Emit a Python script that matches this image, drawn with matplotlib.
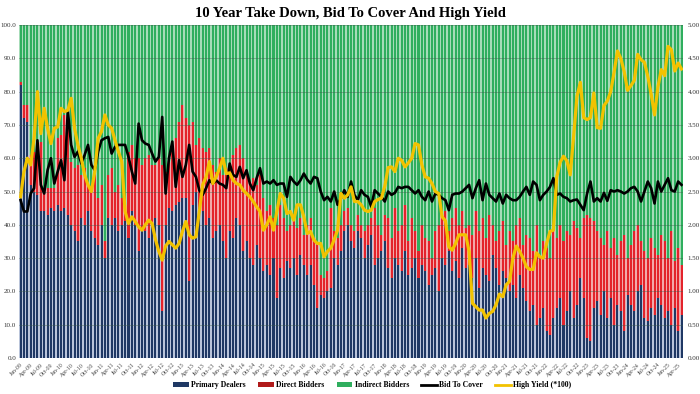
import matplotlib
matplotlib.use("Agg")
import matplotlib.pyplot as plt
from matplotlib.patches import Patch
from matplotlib.lines import Line2D
import numpy as np
import pandas as pd

dates = pd.date_range("2009-01-01", periods=197, freq="MS")
tick_labels = [d.strftime("%b-%y") for d in dates]

primary_dealers = [
    82, 72, 71, 52, 50, 49, 44, 44, 43, 45, 44, 46, 44,
    45, 43, 40, 38, 35, 42, 40, 44, 38, 36, 34, 40,
    30, 42, 40, 42, 38, 40, 41, 36, 44, 40, 32, 38,
    38, 36, 40, 42, 40, 14, 40, 45, 44, 46, 47, 48,
    48, 23, 46, 50, 45, 44, 40, 42, 36, 38, 40, 35,
    30, 38, 36, 42, 40, 32, 35, 30, 28, 34, 30, 26,
    28, 25, 30, 18, 27, 24, 29, 27, 30, 25, 31, 28,
    25, 28, 22, 15, 19, 18, 20, 21, 30, 28, 32, 38,
    40, 35, 33, 38, 36, 30, 34, 37, 28, 30, 32, 35,
    27, 24, 30, 28, 26, 32, 25, 27, 30, 24, 28, 26,
    22, 25, 27, 20, 30, 28, 32, 26, 29, 24, 33, 27,
    28, 24, 30, 21, 27, 25, 23, 31, 27, 22, 26, 24,
    20, 22, 18, 25, 21, 17, 14, 16, 10, 12, 15, 8,
    7, 12, 15, 18, 10, 14, 20, 12, 16, 24, 18, 6,
    5, 15, 17, 13, 20, 12, 18, 10, 16, 14, 8, 19,
    16, 14, 20, 22, 12, 11, 15, 13, 18, 16, 12, 14, 10, 15, 8, 13,
]
direct_bidders = [
    1, 4, 5, 9, 12, 11, 21, 7, 8, 6, 7, 20, 23,
    28, 29, 19, 19, 23, 13, 17, 8, 12, 19, 14, 12,
    5, 13, 17, 8, 14, 8, 5, 26, 20, 20, 28, 20,
    22, 25, 18, 16, 20, 44, 16, 14, 18, 20, 24, 28,
    24, 47, 25, 14, 21, 19, 22, 21, 22, 18, 20, 20,
    27, 20, 25, 21, 24, 28, 21, 23, 26, 18, 25, 22,
    16, 21, 12, 22, 19, 18, 9, 13, 11, 14, 11, 9,
    15, 14, 14, 19, 6, 6, 6, 24, 8, 8, 8, 6,
    5, 5, 5, 5, 4, 8, 6, 5, 17, 10, 5, 8,
    15, 12, 15, 10, 14, 14, 10, 15, 8, 8, 12, 10,
    13, 5, 11, 20, 13, 16, 6, 16, 16, 16, 11, 12,
    12, 13, 14, 17, 15, 11, 20, 9, 8, 16, 15, 10,
    18, 13, 22, 17, 13, 20, 22, 16, 30, 18, 20, 25,
    23, 26, 21, 22, 25, 24, 17, 29, 23, 12, 24, 37,
    37, 26, 21, 23, 14, 26, 15, 26, 15, 21, 29, 11,
    18, 24, 20, 13, 20, 19, 21, 20, 13, 21, 23, 16, 28, 14, 25, 15,
]
bid_to_cover = [
    2.37, 2.2, 2.2, 2.47, 2.55, 3.27, 2.6, 2.47, 2.82, 3.0, 2.62, 2.8,
    2.97, 2.67, 3.72, 3.2, 3.02, 3.1, 2.92, 3.05, 3.2, 2.9, 2.82, 3.1,
    3.27, 3.3, 3.32, 3.07, 3.17, 3.2, 3.2, 3.2, 3.02, 2.8, 2.62, 3.52,
    3.27, 3.22, 3.2, 3.07, 2.95, 3.02, 3.62, 2.47, 3.0, 3.25, 2.57, 2.97,
    2.72, 2.9, 3.2, 2.8, 2.72, 2.52, 2.45, 2.55, 2.67, 2.62, 2.67, 2.62,
    2.6, 2.55, 2.92, 2.75, 2.72, 2.87, 2.7, 2.82, 2.62, 2.52, 2.7, 2.85,
    2.62, 2.65, 2.62, 2.67, 2.6, 2.62, 2.62, 2.42, 2.72, 2.65, 2.6, 2.67,
    2.77, 2.68, 2.62, 2.72, 2.7, 2.5, 2.37, 2.42, 2.35, 2.5, 2.3, 2.4,
    2.52, 2.42, 2.65, 2.45, 2.37, 2.52, 2.45, 2.42, 2.27, 2.52, 2.47, 2.42,
    2.35, 2.5, 2.45, 2.48, 2.57, 2.55, 2.57, 2.57, 2.52, 2.47, 2.52, 2.42,
    2.37, 2.5, 2.35, 2.47, 2.45, 2.4, 2.37, 2.22, 2.45, 2.47, 2.47, 2.5,
    2.55, 2.6, 2.4, 2.55, 2.67, 2.37, 2.62, 2.45, 2.4, 2.35, 2.47, 2.32,
    2.45, 2.4, 2.37, 2.37, 2.42, 2.5, 2.57, 2.45, 2.65, 2.6, 2.37, 2.45,
    2.5, 2.57, 2.7, 2.45, 2.47, 2.42, 2.4, 2.35, 2.37, 2.38, 2.3, 2.22,
    2.47, 2.65, 2.35, 2.4, 2.35, 2.48, 2.36, 2.52, 2.5, 2.52, 2.5, 2.47,
    2.5, 2.55, 2.57, 2.5, 2.35, 2.5, 2.65, 2.55, 2.32, 2.65, 2.5, 2.6,
    2.7, 2.52, 2.5, 2.65, 2.6,
]
high_yield = [
    2.42, 2.8, 3.0, 2.9, 3.3, 4.0, 3.37, 3.75, 3.45, 3.22, 3.45, 3.47,
    3.75, 3.7, 3.72, 3.9, 3.45, 3.2, 3.0, 2.75, 2.6, 2.5, 2.8, 3.3,
    3.4, 3.65, 3.5, 3.45, 3.27, 3.1, 2.95, 2.2, 2.02, 2.12, 2.05, 1.97,
    1.92, 2.0, 2.07, 2.02, 1.78, 1.6, 1.47, 1.68, 1.75, 1.7, 1.65, 1.72,
    1.9, 2.05, 1.85, 1.8, 1.82, 2.2, 2.6, 2.72, 2.95, 2.62, 2.72, 2.85,
    3.0, 2.77, 2.78, 2.67, 2.62, 2.6, 2.52, 2.47, 2.42, 2.35, 2.27, 2.2,
    1.92, 2.0, 2.12, 1.92, 2.2, 2.47, 2.4, 2.17, 2.2, 2.07, 2.3, 2.3,
    2.12, 1.87, 1.9, 1.77, 1.72, 1.72, 1.52, 1.6, 1.65, 1.78, 1.92, 2.47,
    2.4, 2.45, 2.57, 2.35, 2.35, 2.3, 2.22, 2.2, 2.22, 2.35, 2.38, 2.4,
    2.58, 2.86, 2.87, 2.8, 3.0, 2.97, 2.87, 2.93, 3.0, 3.22, 3.2, 2.9,
    2.72, 2.7, 2.62, 2.5, 2.47, 2.12, 2.06, 1.67, 1.62, 1.72, 1.85, 1.85,
    1.85, 1.6, 0.82, 0.77, 0.72, 0.72, 0.6, 0.67, 0.7, 0.8, 0.96, 0.92,
    1.1, 1.15, 1.5, 1.68, 1.6, 1.5, 1.37, 1.33, 1.33, 1.58, 1.52, 1.5,
    1.72, 1.9, 1.92, 2.72, 2.94, 3.03, 2.96, 2.75, 3.33, 3.93, 4.14, 3.61,
    3.58, 3.61, 3.98, 3.46, 3.45, 3.79, 3.86, 4.0, 4.29, 4.61, 4.5, 4.3,
    4.02, 4.09, 4.17, 4.56, 4.48, 4.44, 4.23, 3.96, 3.65, 4.07, 4.33, 4.24,
    4.68, 4.63, 4.31, 4.43, 4.34,
]

NAVY = "#1f3864"
RED = "#e3232b"
GREEN = "#2fae5e"
GOLD = "#f2c200"
NAVY_T = "#b9c4da"
RED_T = "#f2a8aa"
GREEN_T = "#a6dcb8"

pdv = np.array(primary_dealers, dtype=float)
drv = np.array(direct_bidders, dtype=float)
ind = 100.0 - pdv - drv
x = np.arange(len(dates))

plt.rcParams["font.family"] = ["Liberation Serif", "DejaVu Serif"]
fig = plt.figure(figsize=(7.0, 3.94), dpi=100)
ax = fig.add_axes([0.027, 0.0914, 0.949, 0.845])

# light tinted gaps between bars
ax.bar(x, pdv, width=1.0, color=NAVY_T, linewidth=0, zorder=0.5)
ax.bar(x, drv, width=1.0, bottom=pdv, color=RED_T, linewidth=0, zorder=0.5)
ax.bar(x, ind, width=1.0, bottom=pdv + drv, color=GREEN_T, linewidth=0, zorder=0.5)

w = 0.6
ax.bar(x, pdv, width=w, color=NAVY, linewidth=0, zorder=1)
ax.bar(x, drv, width=w, bottom=pdv, color=RED, linewidth=0, zorder=1)
ax.bar(x, ind, width=w, bottom=pdv + drv, color=GREEN, linewidth=0, zorder=1)

ax.set_xlim(-0.5, len(dates) - 0.5)
ax.set_ylim(0, 100)
ax.set_yticks(np.arange(0, 101, 10))
ax.set_yticklabels([f"{v:.1f}" for v in np.arange(0, 101, 10)], fontsize=5,
                   color="#333333")
for yv in np.arange(10, 101, 10):
    ax.axhline(yv, color="#3a5a48", lw=0.5, alpha=0.55, zorder=2)
ax.set_xticks(x[::3])
ax.set_xticklabels(tick_labels[::3], rotation=45, ha="right", fontsize=4.2,
                   rotation_mode="anchor", color="#444444")
ax.tick_params(axis="both", length=0, pad=2)
ax.tick_params(axis="x", pad=3)
for s in ax.spines.values():
    s.set_visible(False)

ax2 = ax.twinx()
ax2.set_ylim(0, 5)
ax2.set_yticks(np.arange(0, 5.01, 0.5))
ax2.set_yticklabels([f"{v:.2f}" for v in np.arange(0, 5.01, 0.5)], fontsize=5,
                    color="#333333")
ax2.tick_params(axis="y", length=0, pad=3)
for s in ax2.spines.values():
    s.set_visible(False)
ax2.plot(x, bid_to_cover, color="black", lw=1.9, zorder=4)
ax2.plot(x, high_yield, color=GOLD, lw=2.3, zorder=5)

fig.text(0.5, 0.965, "10 Year Take Down, Bid To Cover And High Yield",
         ha="center", va="center", fontsize=10.5, fontweight="bold")

handles = [
    Patch(facecolor=NAVY, edgecolor="none"),
    Patch(facecolor="#b01a1a", edgecolor="none"),
    Patch(facecolor=GREEN, edgecolor="none"),
    Line2D([0], [0], color="black", lw=2),
    Line2D([0], [0], color=GOLD, lw=2),
]
labels = ["Primary Dealers", "Direct Bidders", "Indirect Bidders",
          "Bid To Cover", "High Yield (*100)"]
fig.legend(handles, labels, loc="center", bbox_to_anchor=(0.532, 0.022), ncol=5,
           frameon=False, prop={"size": 5.6, "weight": "bold"},
           handlelength=2.0, handleheight=0.45, columnspacing=1.6, handletextpad=0.3)

fig.savefig("out.png", dpi=100)
